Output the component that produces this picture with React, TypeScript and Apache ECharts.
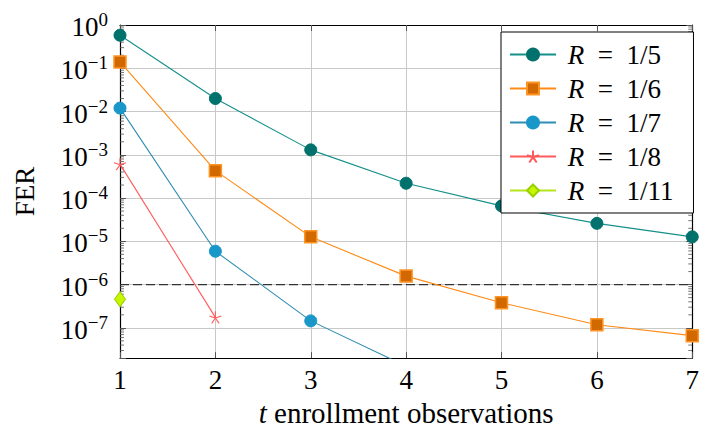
import React, { useEffect, useRef } from "react";
import * as echarts from "echarts";

const FONT = "'Liberation Serif', 'DejaVu Serif', serif";

const xTicks = [1, 2, 3, 4, 5, 6, 7];
const seriesNames = ["R = 1/5", "R = 1/6", "R = 1/7", "R = 1/8", "R = 1/11"];
const r5 = [0.58, 2.0e-2, 1.3e-3, 2.2e-4, 6.6e-5, 2.6e-5, 1.27e-5];
const r6 = [0.14, 4.3e-4, 1.27e-5, 1.57e-6, 3.8e-7, 1.18e-7, 6.6e-8];
const r7 = [1.2e-2, 5.9e-6, 1.45e-7, 1.3e-8];
const r8 = [6.1e-4, 1.75e-7];
const r11 = [4.6e-7];
const threshold = 1e-6;
const thresholdX = [1, 7];
const yMin = 2e-8;
const yMax = 1;
const minorMultipliers = [2, 3, 4, 5, 6, 7, 8, 9];
const decades = [-8, -7, -6, -5, -4, -3, -2, -1];

const STAR =
  "path://M10,10 L10,0 M10,10 L19.51,6.91 M10,10 L15.88,18.09 M10,10 L4.12,18.09 M10,10 L0.49,6.91";

function pairs(vals: number[]) {
  return vals.map((v, i) => [xTicks[i], v]);
}

export default function App() {
  const ref = useRef<HTMLDivElement>(null);
  useEffect(() => {
    if (!ref.current) return;
    const chart = echarts.init(ref.current, null, { renderer: "svg" });
    const minorVals: number[][] = [];
    decades.forEach((d) =>
      minorMultipliers.forEach((m) => {
        const v = m * Math.pow(10, d);
        if (v > yMin && v < yMax) minorVals.push([1, v]);
      })
    );
    const yLabel = (v: number) => {
      const l = Math.log10(v);
      const n = Math.round(l);
      if (Math.abs(l - n) > 1e-6) return "";
      return "{b|10}{s|" + (n === 0 ? "0" : "\u2212" + -n) + "}";
    };
    const mk = (
      name: string,
      data: number[],
      line: string,
      fill: string,
      border: string,
      symbol: string,
      size: any,
      bw: number
    ) => ({
      name,
      type: "line",
      data: pairs(data),
      symbol,
      symbolSize: size,
      showSymbol: true,
      clip: true,
      lineStyle: { color: line, width: 1.1 },
      itemStyle: { color: fill, borderColor: border, borderWidth: bw, opacity: 1 },
      z: 3,
    });
    const series: any[] = [
      {
        type: "custom",
        silent: true,
        data: minorVals,
        z: 1,
        renderItem: (params: any, api: any) => {
          const v = api.value(1);
          const p1 = api.coord([1, v]);
          const p2 = api.coord([7, v]);
          const st = { stroke: "#555", lineWidth: 0.8 };
          return {
            type: "group",
            children: [
              { type: "line", shape: { x1: p1[0], y1: p1[1], x2: p1[0] + 4, y2: p1[1] }, style: st },
              { type: "line", shape: { x1: p2[0], y1: p2[1], x2: p2[0] - 4, y2: p2[1] }, style: st },
            ],
          };
        },
      },
      {
        name: "threshold",
        type: "line",
        data: thresholdX.map((x) => [x, threshold]),
        symbol: "none",
        silent: true,
        lineStyle: { color: "#333", type: [9, 4], width: 1.3 },
        z: 2,
      },
      mk(seriesNames[0], r5, "#14908b", "#00716c", "#00716c", "circle", 12, 1),
      mk(seriesNames[1], r6, "#ff8a14", "#d26800", "#ff9426", "rect", 12, 1.5),
      mk(seriesNames[2], r7, "#2e8db3", "#1a97c9", "#1a97c9", "circle", 12, 1),
      mk(seriesNames[3], r8, "#ff5a5a", "#ff5a5a", "#ff5a5a", STAR, 12, 1.1),
      mk(seriesNames[4], r11, "#b5e61d", "#c8f500", "#99d100", "diamond", [11, 15], 1),
    ];
    chart.setOption({
      animation: false,
      grid: { left: 120, top: 25, right: 4, bottom: 73, containLabel: false },
      legend: {
        data: seriesNames,
        orient: "vertical",
        left: 501,
        top: 32,
        itemWidth: 46,
        itemHeight: 15,
        itemGap: 7,
        padding: [9, 20, 9, 8],
        backgroundColor: "#fff",
        borderColor: "#000",
        borderWidth: 1,
        selectedMode: false,
        formatter: (name: string) => "{i| R}{t|  =  " + name.slice(4) + "}",
        textStyle: {
          fontFamily: FONT,
          fontSize: 27,
          color: "#000",
          rich: {
            i: { fontFamily: FONT, fontSize: 27, fontStyle: "italic", color: "#000" },
            t: { fontFamily: FONT, fontSize: 27, color: "#000" },
          },
        },
      },
      xAxis: [
        {
          type: "value",
          min: 1,
          max: 7,
          interval: 1,
          position: "bottom",
          name: "{i|t} enrollment observations",
          nameLocation: "middle",
          nameGap: 36,
          nameTextStyle: {
            fontFamily: FONT,
            fontSize: 29,
            color: "#000",
            rich: {
              i: { fontFamily: FONT, fontSize: 29, fontStyle: "italic", color: "#000" },
            },
          },
          axisLine: { show: true, lineStyle: { color: "#000", width: 1.2 } },
          axisTick: { show: true, inside: true, length: 6, lineStyle: { color: "#555" } },
          axisLabel: { fontFamily: FONT, fontSize: 27, color: "#000", margin: 8 },
          splitLine: { show: true, lineStyle: { color: "#c8c8c8", width: 1 } },
        },
        {
          type: "value",
          min: 1,
          max: 7,
          interval: 1,
          position: "top",
          axisLine: { show: true, lineStyle: { color: "#000", width: 1.2 } },
          axisTick: { show: true, inside: true, length: 6, lineStyle: { color: "#555" } },
          axisLabel: { show: false },
          splitLine: { show: false },
        },
      ],
      yAxis: [
        {
          type: "log",
          logBase: 10,
          min: yMin,
          max: yMax,
          position: "left",
          name: "FER",
          nameLocation: "middle",
          nameRotate: 90,
          nameGap: 82,
          nameTextStyle: { fontFamily: FONT, fontSize: 27, color: "#000" },
          axisLine: { show: true, lineStyle: { color: "#000", width: 1.2 } },
          axisTick: { show: true, inside: true, length: 6, lineStyle: { color: "#555" } },
          axisLabel: {
            margin: 12,
            formatter: yLabel,
            rich: {
              b: { fontFamily: FONT, fontSize: 27, color: "#000", padding: [4, 0, 0, 0] },
              s: { fontFamily: FONT, fontSize: 19, color: "#000", padding: [0, 0, 11, 0] },
            },
          },
          splitLine: { show: true, lineStyle: { color: "#c8c8c8", width: 1 } },
        },
        {
          type: "log",
          logBase: 10,
          min: yMin,
          max: yMax,
          position: "right",
          axisLine: { show: true, lineStyle: { color: "#000", width: 1.2 } },
          axisTick: { show: true, inside: true, length: 6, lineStyle: { color: "#555" } },
          axisLabel: { show: false },
          splitLine: { show: false },
        },
      ],
      series,
    });
    return () => chart.dispose();
  }, []);
  return <div ref={ref} style={{ width: 702, height: 432, position: "absolute", left: 0, top: 0 }} />;
}
